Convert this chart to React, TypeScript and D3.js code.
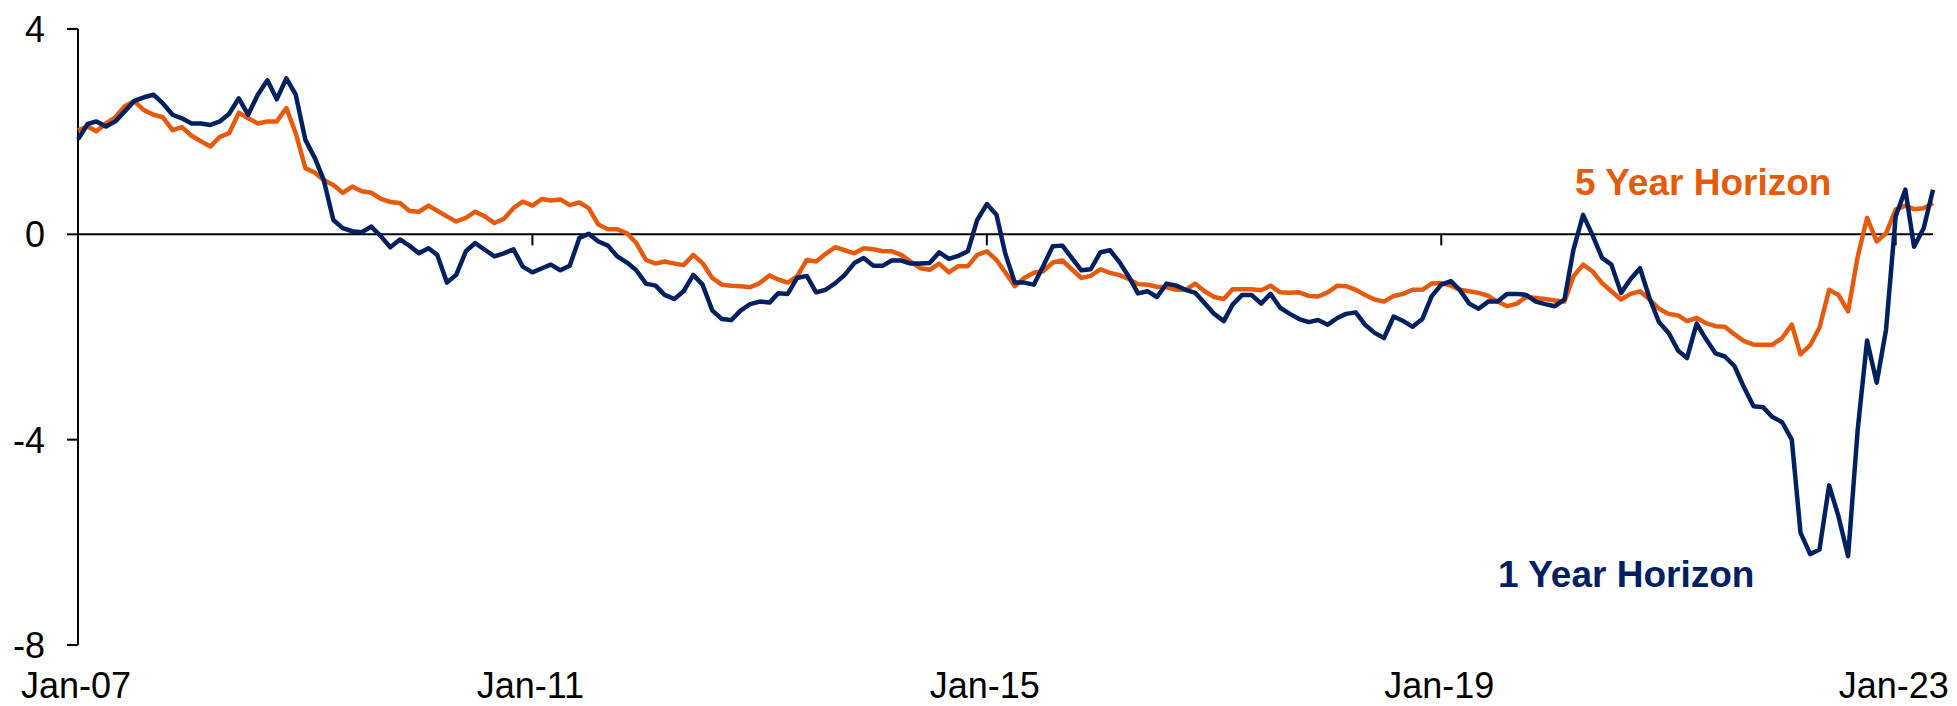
import React, { useEffect, useRef } from "react";
import * as d3 from "d3";

// monthly readings, Jan-07 .. May-23
const oneYear = [
  1.85, 2.15, 2.2, 2.1, 2.2, 2.4, 2.6, 2.67, 2.72, 2.55, 2.33, 2.26,
  2.16, 2.16, 2.13, 2.2, 2.35, 2.65, 2.33, 2.72, 3.0, 2.63, 3.04, 2.72,
  1.84, 1.48, 1.06, 0.28, 0.12, 0.06, 0.04, 0.15, -0.04, -0.25, -0.1, -0.22,
  -0.37, -0.27, -0.4, -0.94, -0.79, -0.33, -0.17, -0.3, -0.43, -0.37, -0.29, -0.63,
  -0.74, -0.66, -0.59, -0.7, -0.61, -0.07, 0.01, -0.14, -0.22, -0.43, -0.55, -0.7,
  -0.96, -1.0, -1.18, -1.26, -1.11, -0.79, -0.98, -1.48, -1.65, -1.67, -1.48, -1.36,
  -1.31, -1.33, -1.15, -1.16, -0.85, -0.81, -1.13, -1.08, -0.95, -0.79, -0.56, -0.46,
  -0.61, -0.61, -0.51, -0.51, -0.57, -0.57, -0.56, -0.35, -0.48, -0.42, -0.33, 0.28,
  0.59, 0.38, -0.37, -0.94, -0.94, -0.98, -0.62, -0.23, -0.22, -0.46, -0.7, -0.68,
  -0.35, -0.31, -0.53, -0.82, -1.15, -1.11, -1.22, -0.96, -1.0, -1.08, -1.14, -1.34,
  -1.55, -1.69, -1.37, -1.18, -1.18, -1.35, -1.16, -1.43, -1.55, -1.65, -1.71, -1.67,
  -1.76, -1.63, -1.55, -1.52, -1.76, -1.92, -2.02, -1.6, -1.69, -1.8, -1.65, -1.21,
  -0.98, -0.91, -1.08, -1.35, -1.45, -1.31, -1.31, -1.16, -1.16, -1.18, -1.31, -1.36,
  -1.4, -1.27, -0.3, 0.38, -0.01, -0.46, -0.59, -1.14, -0.87, -0.66, -1.25, -1.71,
  -1.92, -2.27, -2.41, -1.74, -2.04, -2.32, -2.38, -2.57, -2.99, -3.35, -3.37, -3.56,
  -3.66, -4.0, -5.81, -6.23, -6.14, -4.89, -5.49, -6.27, -3.8, -2.07, -2.89, -1.86,
  0.35, 0.87, -0.24, 0.12, 0.87,
];

const fiveYear = [
  2.03, 2.1, 2.01, 2.16, 2.28, 2.5, 2.59, 2.42, 2.33, 2.28, 2.03, 2.09,
  1.92, 1.81, 1.71, 1.9, 1.97, 2.37, 2.26, 2.16, 2.2, 2.2, 2.46, 1.97,
  1.29, 1.2, 1.06, 0.96, 0.81, 0.93, 0.84, 0.81, 0.69, 0.63, 0.61, 0.46,
  0.44, 0.56, 0.46, 0.35, 0.25, 0.32, 0.44, 0.35, 0.22, 0.3, 0.51, 0.64,
  0.56, 0.69, 0.66, 0.68, 0.57, 0.62, 0.51, 0.19, 0.1, 0.1, 0.02, -0.17,
  -0.5, -0.57, -0.53, -0.57, -0.6, -0.4, -0.56, -0.85, -0.98, -1.0, -1.01, -1.03,
  -0.95, -0.8, -0.88, -0.94, -0.82, -0.5, -0.53, -0.38, -0.25, -0.31, -0.37, -0.27,
  -0.29, -0.33, -0.33, -0.4, -0.53, -0.66, -0.69, -0.57, -0.74, -0.62, -0.62, -0.4,
  -0.33, -0.5, -0.74, -1.01, -0.85, -0.75, -0.72, -0.55, -0.51, -0.68, -0.85, -0.81,
  -0.68, -0.75, -0.79, -0.87, -0.97, -0.98, -1.02, -1.03, -1.08, -1.08, -0.96, -1.11,
  -1.22, -1.26, -1.07, -1.07, -1.07, -1.09, -1.0, -1.13, -1.14, -1.13, -1.2, -1.21,
  -1.13, -1.0, -1.01, -1.08, -1.18, -1.27, -1.31, -1.2, -1.16, -1.08, -1.08, -0.96,
  -0.95, -1.0, -1.08, -1.11, -1.14, -1.2, -1.31, -1.4, -1.35, -1.22, -1.24, -1.26,
  -1.29, -1.31, -0.82, -0.59, -0.72, -0.95, -1.11, -1.27, -1.16, -1.11, -1.27, -1.45,
  -1.55, -1.58, -1.69, -1.63, -1.73, -1.79, -1.8, -1.95, -2.08, -2.15, -2.15, -2.15,
  -2.02, -1.76, -2.34, -2.16, -1.82, -1.08, -1.18, -1.5, -0.43, 0.32, -0.14, 0.02,
  0.48, 0.56, 0.49, 0.51, 0.61,
];

const yTicks = [4, 0, -4, -8];
const xTickYears = [2007, 2011, 2015, 2019, 2023];

const W = 1957;
const H = 706;
const NAVY = "#002060";
const ORANGE = "#E65A0C";
const FONT = "'Liberation Sans', Arial, sans-serif";

export default function App() {
  const ref = useRef<SVGSVGElement>(null);

  useEffect(() => {
    const svg = d3.select(ref.current);
    svg.selectAll("*").remove();

    const months = d3.utcMonth.range(new Date(Date.UTC(2007, 0, 1)), new Date(Date.UTC(2023, 5, 1)));

    const x = d3.scaleUtc()
      .domain([months[0], months[months.length - 1]])
      .range([78, 1933]);
    const y = d3.scaleLinear().domain([-8, 4]).range([645, 29]);

    // y axis
    svg.append("line")
      .attr("x1", 78).attr("x2", 78)
      .attr("y1", y(4)).attr("y2", y(-8))
      .attr("stroke", "#000").attr("stroke-width", 2);
    yTicks.forEach((t) => {
      svg.append("line")
        .attr("x1", 67).attr("x2", 78)
        .attr("y1", y(t)).attr("y2", y(t))
        .attr("stroke", "#000").attr("stroke-width", 2);
      svg.append("text")
        .attr("x", 45).attr("y", y(t))
        .attr("dy", "0.36em")
        .attr("text-anchor", "end")
        .attr("font-family", FONT).attr("font-size", 36)
        .text(String(t));
    });

    // zero line and x ticks
    svg.append("line")
      .attr("x1", 78).attr("x2", 1933)
      .attr("y1", y(0)).attr("y2", y(0))
      .attr("stroke", "#000").attr("stroke-width", 2);
    xTickYears.forEach((yr) => {
      const d = new Date(Date.UTC(yr, 0, 1));
      svg.append("line")
        .attr("x1", x(d)).attr("x2", x(d))
        .attr("y1", y(0)).attr("y2", y(0) + 11)
        .attr("stroke", "#000").attr("stroke-width", 2);
      svg.append("text")
        .attr("x", x(d) - 2).attr("y", 698)
        .attr("text-anchor", "middle")
        .attr("font-family", FONT).attr("font-size", 36)
        .text("Jan-" + String(yr).slice(2));
    });

    const line = d3.line<number>()
      .x((_, i) => x(months[i]))
      .y((v) => y(v));

    svg.append("path")
      .attr("d", line(fiveYear))
      .attr("fill", "none").attr("stroke", ORANGE)
      .attr("stroke-width", 4.5).attr("stroke-linejoin", "round");
    svg.append("path")
      .attr("d", line(oneYear))
      .attr("fill", "none").attr("stroke", NAVY)
      .attr("stroke-width", 4.5).attr("stroke-linejoin", "round");

    svg.append("text")
      .attr("x", 1575).attr("y", 195)
      .attr("font-family", FONT).attr("font-size", 37).attr("font-weight", "bold")
      .attr("fill", ORANGE)
      .text("5 Year Horizon");
    svg.append("text")
      .attr("x", 1498).attr("y", 587)
      .attr("font-family", FONT).attr("font-size", 37).attr("font-weight", "bold")
      .attr("fill", NAVY)
      .text("1 Year Horizon");
  }, []);

  return (
    <svg
      ref={ref}
      width={W}
      height={H}
      style={{ position: "absolute", left: 0, top: 0, background: "#fff" }}
    />
  );
}
